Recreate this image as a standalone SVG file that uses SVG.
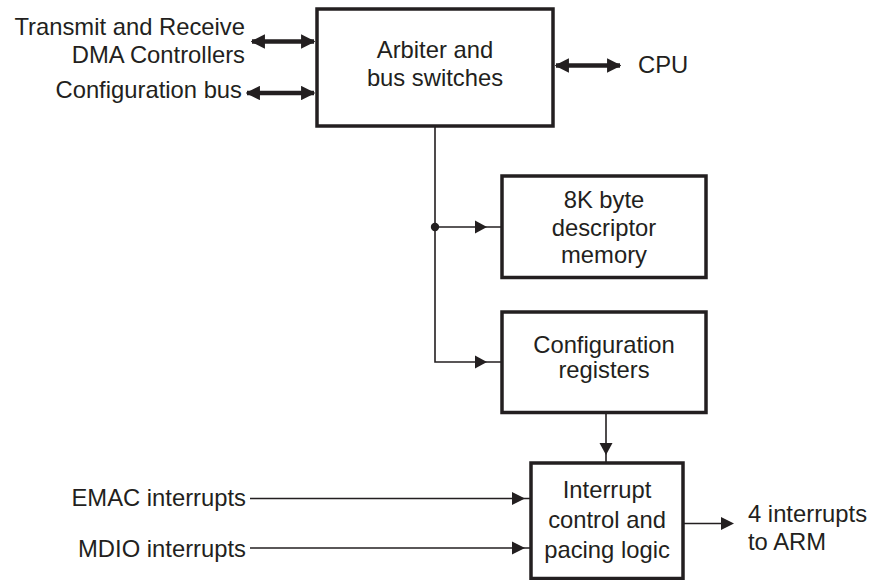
<svg xmlns="http://www.w3.org/2000/svg" width="871" height="580" viewBox="0 0 871 580">
<defs>
<style>
text{font-family:"Liberation Sans",Arial,sans-serif;font-size:23.8px;fill:#231f20}
.box{fill:#fff;stroke:#231f20;stroke-width:3.5}
.thin{fill:none;stroke:#231f20;stroke-width:1.6}
.thick{fill:none;stroke:#231f20;stroke-width:4.5}
.head{fill:#231f20;stroke:none}
</style>
<marker id="dbl" viewBox="0 0 10 10" refX="9" refY="5" markerWidth="3.2" markerHeight="3.2" orient="auto-start-reverse" markerUnits="strokeWidth">
<path d="M0,0 L10,5 L0,10 Z" class="head"/>
</marker>
</defs>
<rect width="871" height="580" fill="#fff"/>
<g id="connectors">
<line class="thick" x1="252" y1="41.5" x2="314" y2="41.5" marker-start="url(#dbl)" marker-end="url(#dbl)"/>
<line class="thick" x1="247" y1="93" x2="314" y2="93" marker-start="url(#dbl)" marker-end="url(#dbl)"/>
<line class="thick" x1="556" y1="65.5" x2="620" y2="65.5" marker-start="url(#dbl)" marker-end="url(#dbl)"/>
<polyline class="thin" points="435,127 435,362 502,362"/>
<line class="thin" x1="435" y1="227" x2="502" y2="227"/>
<circle cx="435" cy="227" r="4.2" class="head"/>
<path class="head" d="M475,220.5 L487,227 L475,233.5 Z"/>
<path class="head" d="M475,355.5 L487,362 L475,368.5 Z"/>
<line class="thin" x1="606" y1="413" x2="606" y2="463"/>
<path class="head" d="M599.5,443 L606,455 L612.5,443 Z"/>
<line class="thin" x1="250" y1="498.5" x2="531" y2="498.5"/>
<path class="head" d="M512,492 L525,498.5 L512,505 Z"/>
<line class="thin" x1="250" y1="548" x2="531" y2="548"/>
<path class="head" d="M512,541.5 L525,548 L512,554.5 Z"/>
<line class="thin" x1="683" y1="523.5" x2="722" y2="523.5"/>
<path class="head" d="M721,517 L734,523.5 L721,530 Z"/>
</g>
<g id="arbiter">
<rect class="box" x="317" y="9" width="236" height="117"/>
<text x="435" y="58" text-anchor="middle">Arbiter and</text>
<text x="435" y="86" text-anchor="middle">bus switches</text>
</g>
<g id="descriptor-memory">
<rect class="box" x="502" y="176" width="204" height="101.5"/>
<text x="604" y="207.5" text-anchor="middle">8K byte</text>
<text x="604" y="235.5" text-anchor="middle">descriptor</text>
<text x="604" y="262.5" text-anchor="middle">memory</text>
</g>
<g id="config-registers">
<rect class="box" x="502" y="312" width="204" height="100.5"/>
<text x="604" y="352.5" text-anchor="middle">Configuration</text>
<text x="604" y="377.5" text-anchor="middle">registers</text>
</g>
<g id="interrupt-control">
<rect class="box" x="531" y="463" width="152" height="115.5"/>
<text x="607" y="497.5" text-anchor="middle">Interrupt</text>
<text x="607" y="528" text-anchor="middle">control and</text>
<text x="607" y="558" text-anchor="middle">pacing logic</text>
</g>
<g id="labels">
<text x="245" y="35" text-anchor="end">Transmit and Receive</text>
<text x="245" y="63" text-anchor="end">DMA Controllers</text>
<text x="242" y="98" text-anchor="end">Configuration bus</text>
<text x="638" y="73">CPU</text>
<text x="246" y="506" text-anchor="end">EMAC interrupts</text>
<text x="246" y="556.5" text-anchor="end">MDIO interrupts</text>
<text x="748" y="522">4 interrupts</text>
<text x="748" y="550">to ARM</text>
</g>
</svg>
